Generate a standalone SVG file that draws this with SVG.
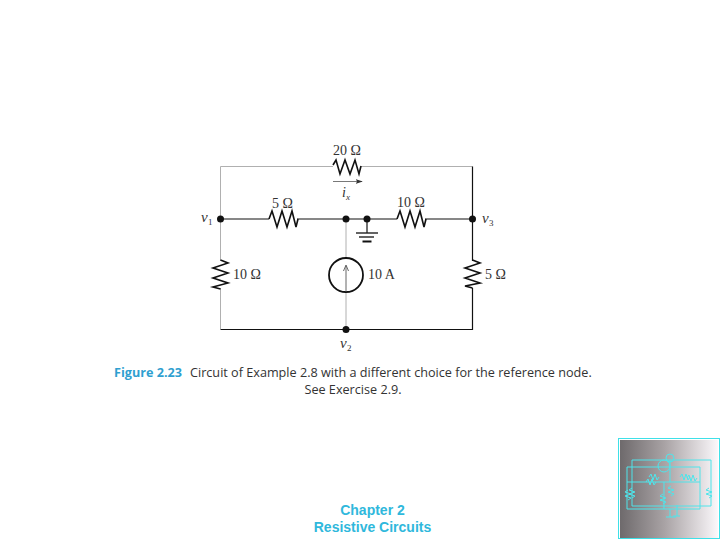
<svg xmlns="http://www.w3.org/2000/svg" width="720" height="540" viewBox="0 0 720 540">
<defs>
<linearGradient id="g" x1="0" x2="1" y1="0" y2="0"><stop offset="0" stop-color="#6e6a6c"/><stop offset="0.45" stop-color="#a8a2a4"/><stop offset="1" stop-color="#fbf8fb"/></linearGradient>
<marker id="ah" markerWidth="9" markerHeight="6" refX="8" refY="3" orient="auto"><path d="M0 0L9 3L0 6L2 3Z" fill="#333"/></marker>
</defs>
<style>
.w{fill:none;stroke:#111;stroke-width:1.2}
.l{fill:none;stroke:#b0b0b0;stroke-width:1}
.r{fill:none;stroke:#111;stroke-width:1.6;stroke-linejoin:miter}
.d{fill:#111}
.t{font-family:"Liberation Serif",serif;font-size:14px;fill:#333}
.i{font-style:italic}
.v{font-size:15px}
.s{font-size:9px}
.c{font-family:"Open Sans","Liberation Sans",sans-serif;font-size:12.65px;fill:#333}
.th{fill:none;stroke:#4fe4ea;stroke-width:1}
.ch{font-family:"Liberation Sans",sans-serif;font-size:14px;font-weight:bold;fill:#2fb8dc;text-anchor:middle}
</style>
<rect width="720" height="540" fill="#fff"/>
<g id="connectors">
<path class="l" d="M333 166.500H220.500V219M220.500 219V261M220.500 288V329"/>
<path class="l" d="M361 166.500H472.500"/>
<path class="w" d="M472.500 166.500V261M472.500 288V329.500H220.500"/>
<path class="w" d="M220.500 219H269M297 219H397M425 219H472.500"/>
<path class="l" d="M346 219V258M346 292V329"/>
<path class="w" d="M367 219V233"/>
<path d="M333 181.500H362" fill="none" stroke="#555" stroke-width="0.800" marker-end="url(#ah)"/>
</g>
<g id="R20"><path class="r" d="M333 165L336 160L340 174L345 160L350 174L355 160L359 174L361 166"/><text class="t" x="333" y="155">20 Ω</text></g>
<g id="ix"><text class="t i" x="342" y="197">i</text><text class="t i s" x="346" y="200">x</text></g>
<g id="R5a"><path class="r" d="M269 219L272 211L277 227L282 211L287 227L292 211L296 227L298 219"/><text class="t" x="272" y="208">5 Ω</text></g>
<g id="R10b"><path class="r" d="M397 219L400 211L405 227L410 211L415 227L420 211L424 227L426 219"/><text class="t" x="397" y="206.500">10 Ω</text></g>
<g id="R10c"><path class="r" d="M220.500 260L228 263L213 268L228 273L213 278L228 283L213 287L220.500 289"/><text class="t" x="233" y="279">10 Ω</text></g>
<g id="R5d"><path class="r" d="M472.500 260L480 263L465 268L480 273L465 278L480 283L465 286L472.500 288"/><text class="t" x="485" y="279">5 Ω</text></g>
<g id="source"><circle cx="346" cy="275" r="17" fill="#fff" stroke="#111" stroke-width="1.800"/><path d="M346 292V266M343.500 271L346 265L348.500 271" fill="none" stroke="#555" stroke-width="0.900"/><text class="t" x="368" y="279">10 A</text></g>
<g id="ground"><path d="M356 233H378" stroke="#222" stroke-width="1.400"/><path d="M359 237H374" stroke="#222" stroke-width="1.400"/><path d="M362.500 241.500H371.500" stroke="#111" stroke-width="2"/></g>
<g id="n1"><circle class="d" cx="220.500" cy="219" r="3.500"/><text class="t i v" x="201" y="222">v</text><text class="t s" x="208" y="225">1</text></g>
<g id="n3"><circle class="d" cx="472.500" cy="219" r="3.500"/><text class="t i v" x="482" y="223">v</text><text class="t s" x="489" y="226">3</text></g>
<g id="n2"><circle class="d" cx="346" cy="329.500" r="3.500"/><text class="t i v" x="340" y="348">v</text><text class="t s" x="347" y="351">2</text></g>
<g id="n4"><circle class="d" cx="346" cy="219" r="3.500"/></g>
<g id="n5"><circle class="d" cx="367" cy="219" r="3.500"/></g>
<g id="caption">
<text class="c" x="114" y="376.500" font-weight="bold" style="fill:#2f9fd0">Figure 2.23</text>
<text class="c" x="190" y="376.500">Circuit of Example 2.8 with a different choice for the reference node.</text>
<text class="c" x="353" y="394" text-anchor="middle">See Exercise 2.9.</text>
</g>
<g id="thumbnail">
<rect x="618.500" y="438.500" width="101" height="100" fill="#fff" stroke="#3fe0e8"/>
<rect x="620" y="440" width="98" height="98" fill="url(#g)"/>
<path class="th" d="M632 460H711V506H632ZM627 467H700V509H627ZM627 482H664V509M664 482H700M670 460V482"/>
<circle class="th" cx="664" cy="466" r="6"/><circle class="th" cx="670" cy="458" r="4"/>
<path class="th" d="M628 490l-3 2l6 2l-6 2l6 2l-3 2M632 488l-3 2l6 2l-6 2l6 2l-3 2M709 488l-3 2l6 2l-6 2l6 2l-3 2M671 486l-3 2l6 2l-6 2l6 2l-3 2M663 494l-3 2l6 2l-6 2l6 2l-3 2M646 482l2-3l2 6l2-6l2 6l2-3M649 477l2-3l2 6l2-6l2 6l2-3M680 477l2-3l2 6l2-6l2 6l2-3M687 478l2-3l2 6l2-6l2 6l2-3M670 509V517M677 505V516M666 517H676M673 516H680"/>
</g>
<g id="chapter"><text class="ch" x="372.500" y="515">Chapter 2</text><text class="ch" x="372.500" y="532">Resistive Circuits</text></g>
</svg>
